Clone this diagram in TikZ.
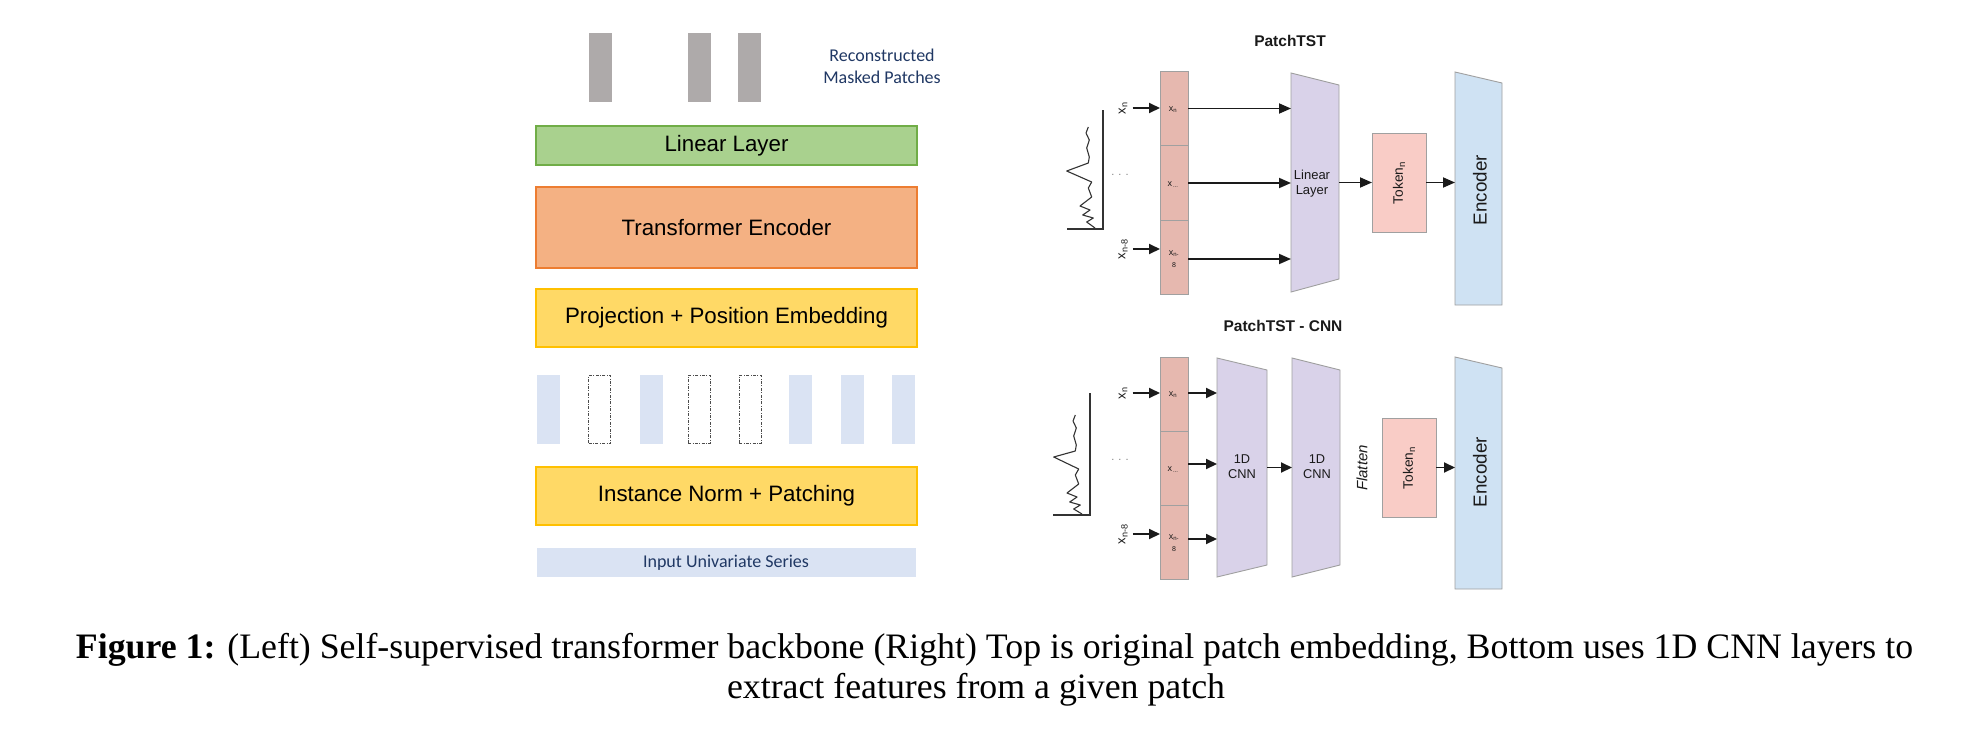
\documentclass[tikz,border=0pt]{standalone}
\usepackage{fontspec}
\setmainfont{Liberation Serif}
\newfontfamily\arial{Liberation Sans}
\newfontfamily\calibri{Carlito}
\usetikzlibrary{arrows.meta}
\newcommand{\myfs}[1]{\fontsize{#1}{#1}\selectfont}
\definecolor{greenf}{HTML}{A9D18E}
\definecolor{greend}{HTML}{70AD47}
\definecolor{orangef}{HTML}{F4B183}
\definecolor{oranged}{HTML}{ED7D31}
\definecolor{yellowf}{HTML}{FFD966}
\definecolor{yellowd}{HTML}{FFC000}
\definecolor{patchb}{HTML}{DAE3F3}
\definecolor{barg}{HTML}{AEAAAA}
\definecolor{navy}{HTML}{203864}
\definecolor{cellf}{HTML}{E6B8AF}
\definecolor{edgeg}{HTML}{A0A0A0}
\definecolor{lavf}{HTML}{D9D2E9}
\definecolor{tokf}{HTML}{F9CCC6}
\definecolor{encf}{HTML}{CFE2F3}
\definecolor{ink}{HTML}{1A1A1A}
\newcommand{\trapz}[4]{%
  \draw[draw=edgeg, line width=0.9pt, fill=#2] (#1.north west) -- ([yshift=-#3pt]#1.north east) -- ([yshift=#4pt]#1.south east) -- (#1.south west) -- cycle;}
\begin{document}
\begin{tikzpicture}[x=1pt,y=-1pt,
  frame/.style={inner sep=0pt, outer sep=0pt},
  box/.style={draw, line width=1.6pt, minimum width=381pt, inner sep=0pt, outer sep=0pt, font=\arial\myfs{22.3}},
  graybar/.style={fill=barg, minimum width=23pt, minimum height=69pt, inner sep=0pt},
  patch/.style={fill=patchb, minimum width=23pt, minimum height=69pt, inner sep=0pt},
  mpatch/.style={draw=black!70, dash pattern=on 3pt off 1.5pt on 0.8pt off 1.5pt, line width=0.8pt, minimum width=22pt, minimum height=68pt, inner sep=0pt},
  cell/.style={draw=edgeg, fill=cellf, line width=0.9pt, minimum width=28pt, minimum height=74.5pt, inner sep=0pt, outer sep=0pt},
  ctext/.style={font=\arial\myfs{9}, text=ink, inner sep=0pt, align=center},
  xlab/.style={font=\arial\myfs{13}, text=ink, rotate=90, inner sep=1pt},
  title/.style={font=\arial\bfseries\myfs{15.5}, text=ink},
  tok/.style={draw=edgeg, fill=tokf, line width=0.9pt, minimum width=54pt, minimum height=99pt, inner sep=0pt, outer sep=0pt},
  arr/.style={-{Triangle[length=12pt,width=10pt]}, line width=1.8pt, ink},
  sarr/.style={-{Triangle[length=11pt,width=10pt]}, line width=1.8pt, ink},
  sig/.style={line width=1.1pt, black!80, line join=round},
  axis/.style={line width=1.4pt, black!80}
]
\useasboundingbox[fill=white] (0,0) rectangle (1964,742);

% ---------------- Left: backbone ----------------
\node[graybar] (g1) at (600,67.5) {};
\node[graybar] (g2) at (699,67.5) {};
\node[graybar] (g3) at (749.5,67.5) {};
\node[font=\calibri\myfs{18}, text=navy, align=center] (recon) at (882,66.5) {Reconstructed\\[4pt]Masked Patches};

\node[box, draw=greend, fill=greenf, minimum height=39pt] (lin) at (726.5,145.5) {Linear Layer};
\node[box, draw=oranged, fill=orangef, minimum height=81pt] (tenc) at (726.5,227.5) {Transformer Encoder};
\node[box, draw=yellowd, fill=yellowf, minimum height=58pt] (proj) at (726.5,318) {Projection + Position Embedding};

\node[patch]  (p1) at (548.5,409.5) {};
\node[mpatch] (p2) at (599.5,409.5) {};
\node[patch]  (p3) at (651,409.5) {};
\node[mpatch] (p4) at (699,409.5) {};
\node[mpatch] (p5) at (750,409.5) {};
\node[patch]  (p6) at (800.5,409.5) {};
\node[patch]  (p7) at (852.5,409.5) {};
\node[patch]  (p8) at (903.5,409.5) {};

\node[box, draw=yellowd, fill=yellowf, minimum height=58pt] (inorm) at (726.5,496) {Instance Norm + Patching};
\node[fill=patchb, minimum width=379pt, minimum height=29pt, inner sep=0pt, font=\calibri\myfs{18}, text=navy] (inp) at (726,562.5) {Input Univariate Series};

% ---------------- Right top: PatchTST ----------------
\node[title] (t1) at (1290,41) {PatchTST};

\draw[axis] (1103,110) -- (1103,229) -- (1067,229);
\begin{scope}[shift={(1103,229)}]
\draw[sig] (-14.7,-102) -- (-17,-96) -- (-13.7,-89) -- (-16.3,-81) -- (-13.7,-72) -- (-14.7,-66) -- (-36.3,-58) -- (-11.3,-47) -- (-14.7,-41) -- (-11.3,-32) -- (-23,-23) -- (-13,-19) -- (-20.3,-14) -- (-9.7,-11) -- (-16.3,-7) -- (-8,-1);
\end{scope}

\node[xlab] (a1) at (1123,108) {x\textsubscript{n}};
\node[font=\arial\myfs{11}, text=black!50] (d1) at (1120,175) {. . .};
\node[xlab] (a3) at (1123,249) {x\textsubscript{n-8}};

\node[cell] (c11) at (1174,108.5) {};
\node[cell] (c12) at (1174,183) {};
\node[cell] (c13) at (1174,257.5) {};
\node[ctext] (c11t) at (1173,110) {x\textsubscript{n}};
\node[ctext] (c12t) at (1173,185) {x\textsubscript{\,...}};
\node[ctext] (c13t) at (1174,259) {x\textsubscript{n-}\\[3pt]{\myfs{7}8}};

\node[frame, minimum width=48pt, minimum height=219pt] (ll) at (1315,182.5) {};
\trapz{ll}{lavf}{12}{13}
\node[font=\arial\myfs{13}, text=ink, align=center] (llt) at (1312,184) {Linear\\[2pt]Layer};

\node[tok] (tk1) at (1399,182.5) {};
\node[font=\arial\myfs{13.7}, text=ink, rotate=90] (tk1t) at (1399,183) {Token\textsubscript{n}};

\node[frame, minimum width=47pt, minimum height=233pt] (en1) at (1478.5,188.5) {};
\trapz{en1}{encf}{11}{0}
\node[font=\arial\myfs{18.8}, text=ink, rotate=90] (en1t) at (1480,190) {Encoder};

\draw[sarr, shorten <=4pt] (a1.south) -- (a1.south -| c11.west);
\draw[sarr, shorten <=4pt] (a3.south) -- (a3.south -| c13.west);
\draw[arr] (c11.east) -- (c11.east -| ll.west);
\draw[arr] (c12.east) -- (c12.east -| ll.west);
\draw[arr] ([yshift=-1.5pt]c13.east) -- ([yshift=-1.5pt]c13.east -| ll.west);
\draw[arr] (ll.east) -- (tk1.west);
\draw[arr] (tk1.east) -- (tk1.east -| en1.west);

% ---------------- Right bottom: PatchTST - CNN ----------------
\node[title] (t2) at (1283,326) {PatchTST - CNN};

\draw[axis] (1090,393) -- (1090,515) -- (1053,515);
\begin{scope}[shift={(1090,515)}]
\draw[sig] (-14.7,-100) -- (-17,-94) -- (-13.7,-87) -- (-16.3,-79) -- (-13.7,-70) -- (-14.7,-64) -- (-36.3,-58) -- (-11.3,-46) -- (-14.7,-40) -- (-11.3,-31) -- (-23,-22) -- (-13,-18) -- (-20.3,-13) -- (-9.7,-10) -- (-16.3,-6) -- (-8,-1);
\end{scope}

\node[xlab] (b1) at (1123,393) {x\textsubscript{n}};
\node[font=\arial\myfs{11}, text=black!50] (d2) at (1120,460) {. . .};
\node[xlab] (b3) at (1123,534) {x\textsubscript{n-8}};

\node[cell, minimum height=74pt] (c21) at (1174,394) {};
\node[cell, minimum height=74pt] (c22) at (1174,468) {};
\node[cell, minimum height=74pt] (c23) at (1174,542) {};
\node[ctext] (c21t) at (1173,395) {x\textsubscript{n}};
\node[ctext] (c22t) at (1173,470) {x\textsubscript{\,...}};
\node[ctext] (c23t) at (1174,543) {x\textsubscript{n-}\\[3pt]{\myfs{7}8}};

\node[frame, minimum width=50pt, minimum height=219pt] (cn1) at (1242,467.5) {};
\trapz{cn1}{lavf}{12}{12}
\node[font=\arial\myfs{12.8}, text=ink, align=center] (cn1t) at (1242,467) {1D\\[2pt]CNN};

\node[frame, minimum width=48pt, minimum height=219pt] (cn2) at (1316,467.5) {};
\trapz{cn2}{lavf}{12}{12}
\node[font=\arial\myfs{12.8}, text=ink, align=center] (cn2t) at (1317,467) {1D\\[2pt]CNN};

\node[font=\arial\itshape\myfs{15}, text=ink, rotate=90] (flat) at (1362,468) {Flatten};

\node[tok] (tk2) at (1409,467.5) {};
\node[font=\arial\myfs{13.7}, text=ink, rotate=90] (tk2t) at (1409,468) {Token\textsubscript{n}};

\node[frame, minimum width=47pt, minimum height=232pt] (en2) at (1478.5,473) {};
\trapz{en2}{encf}{11}{0}
\node[font=\arial\myfs{18.8}, text=ink, rotate=90] (en2t) at (1480,472) {Encoder};

\draw[sarr, shorten <=4pt] (b1.south) -- (b1.south -| c21.west);
\draw[sarr, shorten <=4pt] (b3.south) -- (b3.south -| c23.west);
\draw[sarr] ([yshift=1pt]c21.east) -- ([yshift=1pt]c21.east -| cn1.west);
\draw[sarr] ([yshift=4pt]c22.east) -- ([yshift=4pt]c22.east -| cn1.west);
\draw[sarr] ([yshift=3pt]c23.east) -- ([yshift=3pt]c23.east -| cn1.west);
\draw[sarr] (cn1.east) -- (cn2.west);
\draw[sarr] (tk2.east) -- (tk2.east -| en2.west);

% ---------------- Caption ----------------
\node[font=\myfs{35.8}, text=black] (cap1) at (994.5,650) {\textbf{Figure 1:} (Left) Self-supervised transformer backbone (Right) Top is original patch embedding, Bottom uses 1D CNN layers to};
\node[font=\myfs{35.8}, text=black] (cap2) at (976,690) {extract features from a given patch};
\end{tikzpicture}
\end{document}
